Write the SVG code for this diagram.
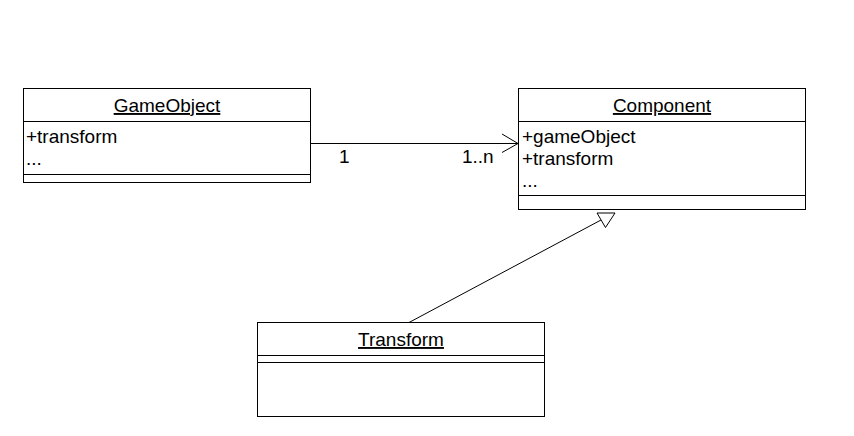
<svg xmlns="http://www.w3.org/2000/svg" width="854" height="436" viewBox="0 0 854 436">
<style>
.box{fill:#fff;stroke:#000;stroke-width:1}
.ln{fill:none;stroke:#000;stroke-width:1}
text{font-family:"Liberation Sans",Arial,sans-serif;font-size:19px;fill:#000}
.t{text-anchor:middle;text-decoration:underline}
</style>
<rect width="854" height="436" fill="#fff"/>
<g id="GameObject">
<rect class="box" x="23.5" y="88.5" width="287" height="94"/>
<line class="ln" x1="23.5" y1="121.5" x2="310.5" y2="121.5"/>
<line class="ln" x1="23.5" y1="174.5" x2="310.5" y2="174.5"/>
<text class="t" x="167" y="112">GameObject</text>
<text x="26" y="143">+transform</text>
<text x="26" y="165">...</text>
</g>
<g id="Component">
<rect class="box" x="518.5" y="88.5" width="287" height="121"/>
<line class="ln" x1="518.5" y1="121.5" x2="805.5" y2="121.5"/>
<line class="ln" x1="518.5" y1="195.5" x2="805.5" y2="195.5"/>
<text class="t" x="662" y="112">Component</text>
<text x="522" y="143">+gameObject</text>
<text x="522" y="165">+transform</text>
<text x="522" y="187">...</text>
</g>
<g id="Transform">
<rect class="box" x="257.5" y="322.5" width="287" height="94"/>
<line class="ln" x1="257.5" y1="355.5" x2="544.5" y2="355.5"/>
<line class="ln" x1="257.5" y1="362.5" x2="544.5" y2="362.5"/>
<text class="t" x="401" y="346">Transform</text>
</g>
<g id="connectors">
<line class="ln" x1="310.5" y1="143.5" x2="518" y2="143.5"/>
<polyline class="ln" points="502,134 518,143.5 502,152.5"/>
<text x="339" y="163">1</text>
<text x="462" y="163">1..n</text>
<line class="ln" x1="409" y1="322.5" x2="601" y2="220"/>
<polygon class="box" points="597,213 615,213 605.5,227.5"/>
</g>
</svg>
